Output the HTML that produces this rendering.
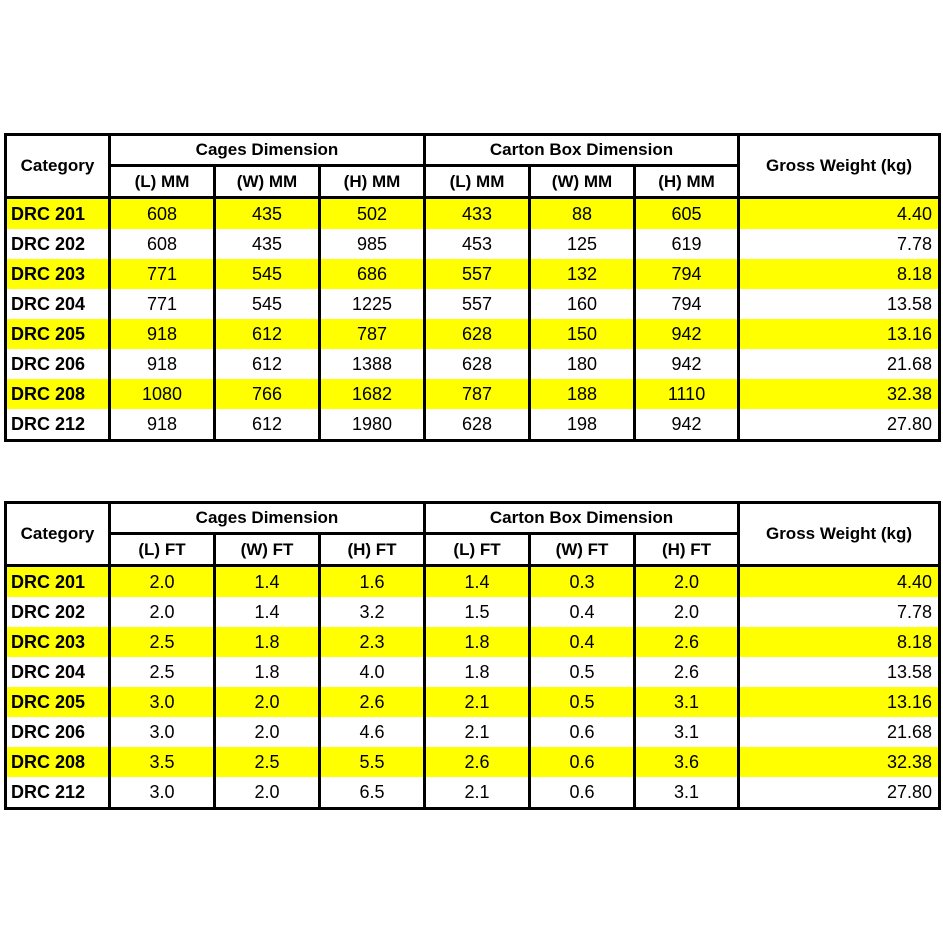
<!DOCTYPE html>
<html><head><meta charset="utf-8"><style>
body{margin:0;width:943px;height:943px;background:#fff;position:relative;overflow:hidden;font-family:"Liberation Sans",Arial,sans-serif;}
table{position:absolute;left:4px;width:937px;border-collapse:collapse;table-layout:fixed;border:3px solid #000;}
td{padding:0;text-align:center;font-size:18px;color:#000;border-left:3px solid #000;border-right:3px solid #000;white-space:nowrap;overflow:hidden;}
tr.h1 td{height:28px;font-weight:bold;font-size:17px;border-bottom:3px solid #000;}
tr.h2 td{height:29px;font-weight:bold;font-size:17px;border-bottom:3px solid #000;}
td.cat{font-weight:bold;font-size:17px;border-bottom:3px solid #000;}
tr.d td{height:30px;}
tr.d td:first-child{text-align:left;padding-left:4px;font-weight:bold;}
tr.d td:last-child{text-align:right;padding-right:6px;}
tr.y td{background:#ffff00;}
</style></head><body>
<table style="top:133px">
<colgroup><col style="width:104px"><col style="width:105px"><col style="width:105px"><col style="width:105px"><col style="width:105px"><col style="width:105px"><col style="width:104px"><col></colgroup>
<tr class="h1"><td rowspan="2" class="cat">Category</td><td colspan="3">Cages Dimension</td><td colspan="3">Carton Box Dimension</td><td rowspan="2">Gross Weight (kg)</td></tr>
<tr class="h2"><td>(L) MM</td><td>(W) MM</td><td>(H) MM</td><td>(L) MM</td><td>(W) MM</td><td>(H) MM</td></tr>
<tr class="d y"><td>DRC 201</td><td>608</td><td>435</td><td>502</td><td>433</td><td>88</td><td>605</td><td>4.40</td></tr>
<tr class="d"><td>DRC 202</td><td>608</td><td>435</td><td>985</td><td>453</td><td>125</td><td>619</td><td>7.78</td></tr>
<tr class="d y"><td>DRC 203</td><td>771</td><td>545</td><td>686</td><td>557</td><td>132</td><td>794</td><td>8.18</td></tr>
<tr class="d"><td>DRC 204</td><td>771</td><td>545</td><td>1225</td><td>557</td><td>160</td><td>794</td><td>13.58</td></tr>
<tr class="d y"><td>DRC 205</td><td>918</td><td>612</td><td>787</td><td>628</td><td>150</td><td>942</td><td>13.16</td></tr>
<tr class="d"><td>DRC 206</td><td>918</td><td>612</td><td>1388</td><td>628</td><td>180</td><td>942</td><td>21.68</td></tr>
<tr class="d y"><td>DRC 208</td><td>1080</td><td>766</td><td>1682</td><td>787</td><td>188</td><td>1110</td><td>32.38</td></tr>
<tr class="d"><td>DRC 212</td><td>918</td><td>612</td><td>1980</td><td>628</td><td>198</td><td>942</td><td>27.80</td></tr>
</table>
<table style="top:501px">
<colgroup><col style="width:104px"><col style="width:105px"><col style="width:105px"><col style="width:105px"><col style="width:105px"><col style="width:105px"><col style="width:104px"><col></colgroup>
<tr class="h1"><td rowspan="2" class="cat">Category</td><td colspan="3">Cages Dimension</td><td colspan="3">Carton Box Dimension</td><td rowspan="2">Gross Weight (kg)</td></tr>
<tr class="h2"><td>(L) FT</td><td>(W) FT</td><td>(H) FT</td><td>(L) FT</td><td>(W) FT</td><td>(H) FT</td></tr>
<tr class="d y"><td>DRC 201</td><td>2.0</td><td>1.4</td><td>1.6</td><td>1.4</td><td>0.3</td><td>2.0</td><td>4.40</td></tr>
<tr class="d"><td>DRC 202</td><td>2.0</td><td>1.4</td><td>3.2</td><td>1.5</td><td>0.4</td><td>2.0</td><td>7.78</td></tr>
<tr class="d y"><td>DRC 203</td><td>2.5</td><td>1.8</td><td>2.3</td><td>1.8</td><td>0.4</td><td>2.6</td><td>8.18</td></tr>
<tr class="d"><td>DRC 204</td><td>2.5</td><td>1.8</td><td>4.0</td><td>1.8</td><td>0.5</td><td>2.6</td><td>13.58</td></tr>
<tr class="d y"><td>DRC 205</td><td>3.0</td><td>2.0</td><td>2.6</td><td>2.1</td><td>0.5</td><td>3.1</td><td>13.16</td></tr>
<tr class="d"><td>DRC 206</td><td>3.0</td><td>2.0</td><td>4.6</td><td>2.1</td><td>0.6</td><td>3.1</td><td>21.68</td></tr>
<tr class="d y"><td>DRC 208</td><td>3.5</td><td>2.5</td><td>5.5</td><td>2.6</td><td>0.6</td><td>3.6</td><td>32.38</td></tr>
<tr class="d"><td>DRC 212</td><td>3.0</td><td>2.0</td><td>6.5</td><td>2.1</td><td>0.6</td><td>3.1</td><td>27.80</td></tr>
</table>
</body></html>
